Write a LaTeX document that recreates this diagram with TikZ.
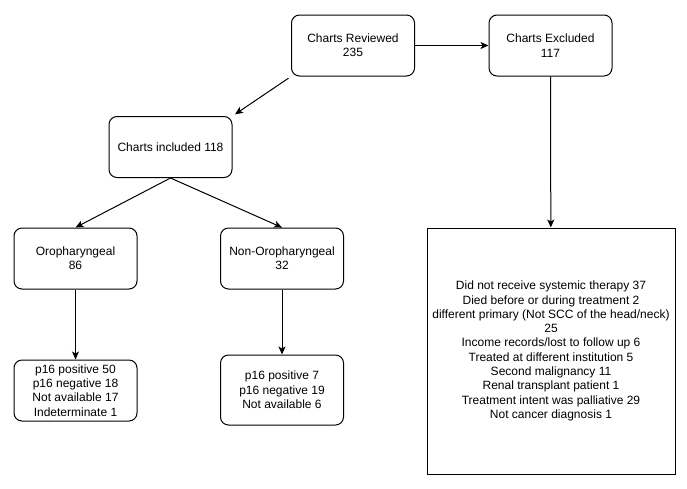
\documentclass[tikz,border=0pt]{standalone}
\usepackage{fontspec}
\setmainfont{Liberation Sans}
\usetikzlibrary{arrows.meta}

\begin{document}
\begin{tikzpicture}[%%
  x=1pt,y=-1pt,%%
  font=\fontsize{12}{14.3}\selectfont,%%
  arrowStyle/.style={-{Stealth[length=8pt,width=7pt,inset=2pt]},line width=1pt},%%
  boxStyle/.style={draw,line width=1pt,rounded corners=8pt,align=center,minimum width=123pt,minimum height=61pt},%%
  listStyle/.style={draw,line width=1pt,align=center,minimum width=248pt,minimum height=246pt}%%
]
%%
%%
\useasboundingbox (0,0) rectangle (687,488);
%% The top row.
\node[boxStyle] (reviewed) at (353,45.5) {Charts Reviewed\\235};
\node[boxStyle] (excluded) at (550.5,45.5) {Charts Excluded\\117};
%% The included branch.
\node[boxStyle] (included) at (170.5,147) {Charts included 118};
\node[boxStyle] (oro) at (75.5,258.5) {Oropharyngeal\\86};
\node[boxStyle] (nonoro) at (282,258.5) {Non-Oropharyngeal\\32};
\node[boxStyle] (oroP16) at (75.5,390.5) {p16 positive 50\\p16 negative 18\\Not available 17\\Indeterminate 1};
\node[boxStyle,minimum height=70pt] (nonoroP16) at (282,390) {p16 positive 7\\p16 negative 19\\Not available 6};
%% The reasons for exclusion.
\node[listStyle] (reasons) at (551,351) {Did not receive systemic therapy 37\\
  Died before or during treatment 2\\
  different primary (Not SCC of the head/neck)\\
  25\\
  Income records/lost to follow up 6\\
  Treated at different institution 5\\
  Second malignancy 11\\
  Renal transplant patient 1\\
  Treatment intent was palliative 29\\
  Not cancer diagnosis 1};
%%
%%
%% The arrows.
\draw[arrowStyle] (reviewed) -- (excluded);
\draw[arrowStyle,shorten <=3pt,shorten >=3pt] (reviewed.south west) -- (included.north east);
\draw[arrowStyle] (excluded) -- (reasons);
\draw[arrowStyle] (included.south) -- (oro.north);
\draw[arrowStyle] (included.south) -- (nonoro.north);
\draw[arrowStyle] (oro) -- (oroP16);
\draw[arrowStyle] (nonoro) -- (nonoroP16);
\end{tikzpicture}
\end{document}
